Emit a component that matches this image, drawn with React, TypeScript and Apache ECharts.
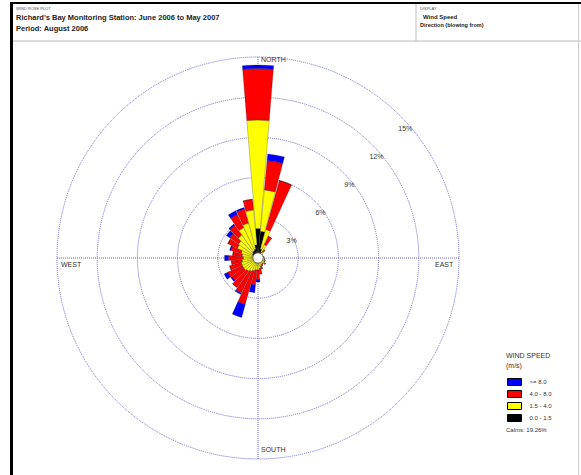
import React, { useEffect, useRef } from "react";
import * as echarts from "echarts";

// 36 direction sectors, 10° apart, clockwise from north (direction blowing from)
const directions: string[] = [
  "0", "10", "20", "30", "40", "50", "60", "70", "80", "90", "100", "110",
  "120", "130", "140", "150", "160", "170", "180", "190", "200", "210", "220", "230",
  "240", "250", "260", "270", "280", "290", "300", "310", "320", "330", "340", "350",
];

// Frequency (%) per speed class and direction
const speed0to15: number[] = [
  2.2, 2.0, 0.7, 0.5, 0.35, 0.3, 0.3, 0.3, 0.35, 0.3, 0.35, 0.35,
  0.4, 0.4, 0.35, 0.35, 0.35, 0.4, 0.4, 0.4, 0.4, 0.4, 0.4, 0.4,
  0.4, 0.4, 0.4, 0.4, 0.4, 0.4, 0.5, 0.5, 0.6, 0.6, 0.7, 1.0,
];
const speed15to40: number[] = [
  8.1, 3.1, 1.5, 0.6, 0.2, 0.1, 0.05, 0.1, 0.1, 0.05, 0.15, 0.2,
  0.15, 0.2, 0.2, 0.2, 0.3, 0.4, 0.5, 0.5, 0.6, 0.7, 0.8, 0.9,
  0.9, 0.9, 0.8, 0.7, 0.8, 0.9, 1.2, 1.3, 1.5, 1.9, 2.0, 2.6,
];
const speed40to80: number[] = [
  3.85, 2.2, 3.8, 0.7, 0.2, 0, 0, 0, 0, 0, 0, 0,
  0, 0.1, 0, 0.1, 0.2, 0.4, 0.7, 1.1, 2.6, 1.8, 1.5, 1.1,
  1.2, 0.9, 0.8, 1.1, 0.7, 0.8, 0.8, 0.8, 0.9, 1.1, 1.1, 0.8,
];
const speedOver80: number[] = [
  0.25, 0.5, 0, 0, 0, 0, 0, 0, 0, 0, 0, 0,
  0, 0, 0, 0, 0, 0, 0.2, 0.6, 1.0, 0.1, 0, 0.1,
  0.3, 0, 0, 0.3, 0, 0.1, 0, 0.3, 0.1, 0.3, 0.1, 0,
];

const speedClasses: string[] = ["0.0 - 1.5", "1.5 - 4.0", "4.0 - 8.0", ">= 8.0"];
const classColors: string[] = ["#000000", "#ffff00", "#ff0000", "#0000ff"];
const classValues: number[][] = [speed0to15, speed15to40, speed40to80, speedOver80];

const radiusMax = 15;
const radiusStep = 3;
const calmsText = "Calms: 19.26%";

const CX = 258;
const CY = 258;
const R = 201;

const gridLine = { color: "#6b6bd0", width: 1, type: "dotted" as const };
const font = "Liberation Sans, Arial, sans-serif";

export default function App() {
  const ref = useRef<HTMLDivElement>(null);

  useEffect(() => {
    if (!ref.current) return;
    const chart = echarts.init(ref.current, undefined, { renderer: "svg" });

    const hidden = {
      axisLine: { show: false },
      axisTick: { show: false },
      axisLabel: { show: false },
      splitLine: { show: false },
    };

    const compassText = (text: string, x: number, y: number) => ({
      type: "text",
      x,
      y,
      style: { text, fontSize: 7, fontFamily: font, fill: "#333" },
    });

    const option: any = {
      animation: false,
      backgroundColor: "#ffffff",
      polar: [
        { center: [CX, CY], radius: R },
        { center: [CX, CY], radius: R },
        { center: [CX, CY], radius: R },
      ],
      angleAxis: [
        {
          polarIndex: 0,
          type: "category",
          data: directions,
          startAngle: 95,
          clockwise: true,
          ...hidden,
        },
        {
          polarIndex: 1,
          type: "value",
          min: 0,
          max: 360,
          interval: 90,
          startAngle: 90,
          axisLine: { show: false },
          axisTick: { show: false },
          axisLabel: { show: false },
          splitLine: { show: true, lineStyle: gridLine },
        },
        {
          polarIndex: 2,
          type: "value",
          min: 0,
          max: 360,
          startAngle: 44,
          ...hidden,
        },
      ],
      radiusAxis: [
        { polarIndex: 0, min: 0, max: radiusMax, ...hidden },
        {
          polarIndex: 1,
          min: 0,
          max: radiusMax,
          interval: radiusStep,
          axisLine: { show: false },
          axisTick: { show: false },
          axisLabel: { show: false },
          splitLine: { show: true, lineStyle: gridLine },
        },
        {
          polarIndex: 2,
          min: 0,
          max: radiusMax,
          interval: radiusStep,
          axisLine: { show: false },
          axisTick: { show: false },
          splitLine: { show: false },
          axisLabel: {
            show: true,
            fontSize: 7,
            fontFamily: font,
            color: "#333",
            margin: -14,
            formatter: (v: number) => (v === 0 ? "" : v + "%"),
          },
        },
      ],
      legend: {
        orient: "vertical",
        left: 507,
        top: 378,
        padding: 0,
        itemWidth: 14,
        itemHeight: 7,
        itemGap: 4,
        icon: "rect",
        data: [...speedClasses].reverse(),
        selectedMode: false,
        itemStyle: { borderColor: "#000", borderWidth: 1 },
        textStyle: { fontSize: 6, fontFamily: font, color: "#333", padding: [0, 0, 0, 3], lineHeight: 8 },
      },
      series: speedClasses.map((name, i) => ({
        name,
        type: "bar",
        coordinateSystem: "polar",
        polarIndex: 0,
        stack: "wind",
        barCategoryGap: "7%",
        data: classValues[i],
        itemStyle: {
          color: classColors[i],
          borderColor: "rgba(0,0,0,0.45)",
          borderWidth: 0.5,
        },
      })),
      graphic: [
        // page frame
        { type: "rect", shape: { x: 10, y: 2, width: 571, height: 2 }, style: { fill: "#000" } },
        { type: "rect", shape: { x: 10, y: 2, width: 3, height: 473 }, style: { fill: "#000" } },
        { type: "line", shape: { x1: 13, y1: 41, x2: 581, y2: 41 }, style: { stroke: "#bbb", lineWidth: 1 } },
        { type: "line", shape: { x1: 416, y1: 4, x2: 416, y2: 41 }, style: { stroke: "#bbb", lineWidth: 1 } },
        { type: "line", shape: { x1: 578.5, y1: 4, x2: 578.5, y2: 475 }, style: { stroke: "#ccc", lineWidth: 1 } },
        // header
        { type: "text", x: 16, y: 6, style: { text: "WIND ROSE PLOT", fontSize: 4, fontFamily: font, fill: "#555" } },
        { type: "text", x: 16, y: 13, style: { text: "Richard's Bay Monitoring Station: June 2006 to May 2007", fontSize: 7.5, fontWeight: "bold", fontFamily: font, fill: "#222" } },
        { type: "text", x: 16, y: 24, style: { text: "Period: August 2006", fontSize: 7.5, fontWeight: "bold", fontFamily: font, fill: "#222" } },
        { type: "text", x: 420, y: 6, style: { text: "DISPLAY", fontSize: 4, fontFamily: font, fill: "#555" } },
        { type: "text", x: 423, y: 14, style: { text: "Wind Speed", fontSize: 6, fontWeight: "bold", fontFamily: font, fill: "#222" } },
        { type: "text", x: 420, y: 22, style: { text: "Direction (blowing from)", fontSize: 5.5, fontWeight: "bold", fontFamily: font, fill: "#222" } },
        // compass labels
        compassText("NORTH", 261, 55.5),
        compassText("WEST", 61, 261),
        compassText("EAST", 435, 261),
        compassText("SOUTH", 261, 446),
        // calm circle
        { type: "circle", z: 100, shape: { cx: CX, cy: CY, r: 5 }, style: { fill: "#fff", stroke: "#8b7355", lineWidth: 0.7 } },
        // legend title and calms
        { type: "text", x: 506, y: 352, style: { text: "WIND SPEED", fontSize: 7, fontFamily: font, fill: "#333" } },
        { type: "text", x: 506, y: 362, style: { text: "(m/s)", fontSize: 7, fontFamily: font, fill: "#333" } },
        { type: "text", x: 506, y: 427, style: { text: calmsText, fontSize: 6, fontFamily: font, fill: "#333" } },
      ],
    };

    chart.setOption(option);
    return () => chart.dispose();
  }, []);

  return (
    <div
      ref={ref}
      style={{ position: "fixed", left: 0, top: 0, width: 581, height: 475 }}
    />
  );
}
